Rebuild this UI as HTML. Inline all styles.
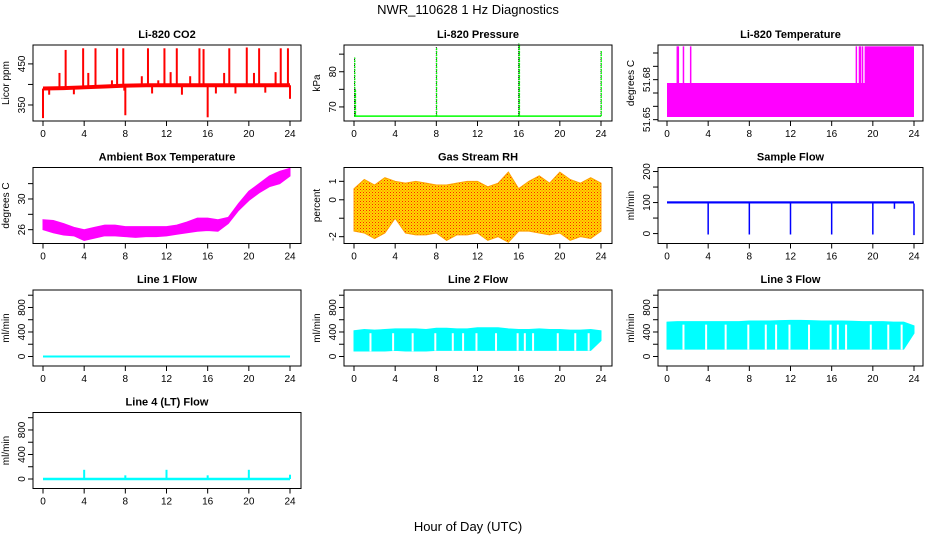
<!DOCTYPE html>
<html><head><meta charset="utf-8"><style>
html,body{margin:0;padding:0;background:#fff}
svg{display:block;font-family:"Liberation Sans",Arial,sans-serif}
</style></head><body>
<svg id="s" width="936" height="540" viewBox="0 0 936 540" xmlns="http://www.w3.org/2000/svg">
<defs>
<pattern id="rhpat" width="3" height="3" patternUnits="userSpaceOnUse"><rect width="3" height="3" fill="#ffd700"/><rect x="0" y="0" width="1" height="1" fill="#ff2000"/><rect x="1.5" y="1.5" width="1" height="1" fill="#ff6000"/></pattern>
</defs>
<text x="468" y="14" text-anchor="middle" font-size="13">NWR_110628  1 Hz Diagnostics</text>
<text x="468" y="531" text-anchor="middle" font-size="13">Hour of Day (UTC)</text>
</svg>
<script>
// ---------- data ----------
const xTicks=[0,4,8,12,16,20,24];
// CO2
const co2BaseHours=[0,2,4,6,8,10,12,16,20,24];
const co2BaseVals=[390,391,393,395,397,398,398,398,398,398];
const co2SpikeHours=[2.2,3.9,5.1,7.2,7.8,10.2,11.8,13.0,15.2,15.6,18.1,19.8,21.0,23.1,23.8,1.6,4.4,6.7,9.6,11.2,12.4,14.3,17.6,20.5,22.6,0.0,8.0,16.0,24.0,0.6,3.0,10.6,13.5,16.8,18.7,21.6,7.9];
const co2SpikeVals=[484,488,488,488,488,488,488,488,488,486,488,490,488,488,488,428,428,410,420,410,430,420,428,428,430,318,325,320,365,375,376,378,375,378,378,380,385];
// Pressure
const presBase=67.4;
const presSpikeHours=[0.05,0.12,8.0,16.0,16.05,24.0];
const presSpikeVals=[84,75,87,88,87.5,86];
// Li-820 temperature
const ltLow=51.652, ltMid=51.6775, ltHigh=51.705;
const ltStepHour=19.2;
const ltSpikeHours=[1.0,1.1,1.6,2.3,18.4,18.7,18.8,19.0];
// Ambient box temperature
const ambHours=[0,1,2,3,4,5,6,7,8,9,10,11,12,13,14,15,16,17,18,19,20,21,22,23,24];
const ambHi=[27.3,27.2,26.8,26.3,26.0,26.3,26.6,26.6,26.4,26.4,26.4,26.4,26.4,26.6,27.0,27.5,27.5,27.3,27.6,29.4,31.0,32.0,33.0,33.6,34.0];
const ambLo=[26.0,25.6,25.3,25.2,24.6,24.9,25.2,25.2,25.1,25.0,25.1,25.1,25.2,25.4,25.6,25.8,25.9,25.8,26.8,28.5,29.8,30.8,31.6,32.0,33.0];
// Gas stream RH
const rhHours=[0,1,2,3,4,5,6,7,8,9,10,11,12,13,14,15,16,17,18,19,20,21,22,23,24];
const rhHi=[0.6,1.1,0.8,1.2,1.0,0.9,1.0,0.9,0.8,0.8,0.9,1.0,1.0,0.7,0.9,1.5,0.6,1.0,1.3,0.9,1.5,1.1,0.9,1.2,0.9];
const rhLo=[-1.7,-1.8,-2.1,-1.8,-1.0,-1.8,-1.9,-1.9,-1.8,-2.2,-1.9,-1.9,-1.8,-2.2,-2.0,-2.3,-1.7,-1.7,-1.8,-1.9,-1.8,-2.2,-2.0,-2.1,-1.7];
// Sample flow
const sfBaseLo=97, sfBaseHi=104;
const sfDipHours=[4.0,8.0,12.0,16.0,20.0,24.0,22.1];
const sfDipVals=[-3,-3,-3,-3,-3,-5,80];
// Line flows
const l2Hi=[420,440,430,440,450,450,450,440,460,460,450,450,470,470,470,450,440,440,450,440,440,430,430,440,420];
const l2Lo=[90,90,90,90,100,90,90,90,100,100,100,100,100,100,100,100,100,100,100,100,100,100,100,100,260];
const l3Hi=[560,570,570,570,570,570,570,570,580,580,580,585,590,590,585,580,580,580,575,570,570,570,560,560,500];
const l3Lo=[120,120,120,120,120,120,120,120,120,120,120,120,120,120,120,120,120,120,120,120,120,120,120,120,380];
const flowHours=[0,1,2,3,4,5,6,7,8,9,10,11,12,13,14,15,16,17,18,19,20,21,22,23,24];
const flowGapHours=[1.6,3.8,5.7,7.9,9.6,10.6,11.9,13.8,15.9,16.6,17.4,19.8,21.5,22.8];
const l4SpikeHours=[4.0,8.0,12.0,16.0,20.0,24.0];
const l4SpikeVals=[150,60,150,60,150,70];

// ---------- drawing ----------
const svg=document.getElementById('s');
const NS='http://www.w3.org/2000/svg';
function mk(tag,attrs,parent){const e=document.createElementNS(NS,tag);for(const k in attrs)e.setAttribute(k,attrs[k]);(parent||svg).appendChild(e);return e;}
const cols=[{l:33,r:301,x0:43,x24:290},{l:344,r:612,x0:354,x24:601},{l:658,r:923,x0:667,x24:914}];
function panel(col,row,title,ylab,ymin,ymax,ticks,labels,name){
  const c=cols[col];const top=45+row*122.5,bot=top+76;
  const g=mk('g',{});
  
  
  const X=t=>c.x0+t*(c.x24-c.x0)/24;
  const Y=v=>bot-(v-ymin)/(ymax-ymin)*(bot-top);
  const t=mk('text',{x:(c.l+c.r)/2,y:top-7,'text-anchor':'middle','font-size':11,'font-weight':'bold'},g);t.textContent=title;
  
  
  const yl=mk('text',{x:0,y:0,'text-anchor':'middle','font-size':10,transform:`translate(${c.l-24},${(top+bot)/2}) rotate(-90)`},g);yl.textContent=ylab;
  
  
  const data=mk('g',{},g);
  
  
  xTicks.forEach(v=>{mk('line',{x1:X(v),x2:X(v),y1:bot,y2:bot+5,stroke:'#000'},g);
    const tl=mk('text',{x:X(v),y:bot+16,'text-anchor':'middle','font-size':10},g);tl.textContent=v;
    
    });
  ticks.forEach((v,i)=>{mk('line',{x1:c.l-5,x2:c.l,y1:Y(v),y2:Y(v),stroke:'#000'},g);
    if(labels[i]!==''){const tl=mk('text',{x:0,y:0,'text-anchor':'middle','font-size':10,transform:`translate(${c.l-8},${Y(v)}) rotate(-90)`},g);tl.textContent=labels[i];
    
    }});
  const box=mk('rect',{x:c.l,y:top,width:c.r-c.l,height:bot-top,fill:'none',stroke:'#000'},g);
  
  
  return {X,Y,g:data,top,bot};
}
function band(p,hours,hi,lo,fill){
  let d='M'+hours.map((h,i)=>p.X(h)+','+p.Y(hi[i])).join('L');
  for(let i=hours.length-1;i>=0;i--)d+='L'+p.X(hours[i])+','+p.Y(lo[i]);
  const e=mk('path',{d:d+'Z',fill:fill,stroke:fill==='url(#rhpat)'?'#ffa000':fill,'stroke-width':1},p.g);
  
  
}
function vline(p,h,v1,v2,color,w,dash){const e=mk('line',{x1:p.X(h),x2:p.X(h),y1:p.Y(v1),y2:p.Y(v2),stroke:color,'stroke-width':w||1.5},p.g);if(dash)e.setAttribute('stroke-dasharray',dash);
  
  }
function interp(hs,vs,h){for(let i=1;i<hs.length;i++){if(h<=hs[i]){const f=(h-hs[i-1])/(hs[i]-hs[i-1]);return vs[i-1]+f*(vs[i]-vs[i-1]);}}return vs[vs.length-1];}

// CO2
let p=panel(0,0,'Li-820 CO2','Licor ppm',311,496,[350,400,450],['350','','450'],'co2');
let bl=mk('polyline',{points:co2BaseHours.map((h,i)=>p.X(h)+','+p.Y(co2BaseVals[i])).join(' '),fill:'none',stroke:'#f00','stroke-width':4},p.g);


co2SpikeHours.forEach((h,i)=>{vline(p,h,interp(co2BaseHours,co2BaseVals,h),co2SpikeVals[i],'#f00',2);});

// Pressure
p=panel(1,0,'Li-820 Pressure','kPa',66,87.6,[70,75,80,85],['70','','80',''],'pressure');
let pl=mk('line',{x1:p.X(0),x2:p.X(24),y1:p.Y(presBase),y2:p.Y(presBase),stroke:'#0f0','stroke-width':1.5},p.g);


presSpikeHours.forEach((h,i)=>{vline(p,h,presBase,presSpikeVals[i],'#000',1,'1,1');vline(p,h+0.03,presBase,presSpikeVals[i],'#0f0',1.2,'2,1');});

// Li-820 Temp
p=panel(2,0,'Li-820 Temperature','degrees C',51.649,51.706,[51.65,51.66,51.67,51.68,51.69,51.70],['51.65','','','51.68','',''],'li820-temp');
let r=mk('rect',{x:p.X(0),y:p.Y(ltMid),width:p.X(24)-p.X(0),height:p.Y(ltLow)-p.Y(ltMid),fill:'#f0f'},p.g);


r=mk('rect',{x:p.X(ltStepHour),y:p.Y(ltHigh),width:p.X(24)-p.X(ltStepHour),height:p.Y(ltLow)-p.Y(ltHigh),fill:'#f0f'},p.g);


ltSpikeHours.forEach(h=>vline(p,h,ltMid,ltHigh,'#f0f',1.5));

// Ambient
p=panel(0,1,'Ambient Box Temperature','degrees C',24.2,34.1,[26,28,30,32],['26','','30',''],'ambient-temp');
band(p,ambHours,ambHi,ambLo,'#f0f');

// RH
p=panel(1,1,'Gas Stream RH','percent',-2.37,1.75,[-2,-1,0,1],['-2','','0','1'],'gas-rh');
band(p,rhHours,rhHi,rhLo,'url(#rhpat)');

// Sample flow
p=panel(2,1,'Sample Flow','ml/min',-32,213,[0,50,100,150,200],['0','','100','','200'],'sample-flow');
r=mk('rect',{x:p.X(0),y:p.Y(sfBaseHi),width:p.X(24)-p.X(0),height:p.Y(sfBaseLo)-p.Y(sfBaseHi),fill:'#00f'},p.g);


sfDipHours.forEach((h,i)=>vline(p,h,sfBaseLo,sfDipVals[i],'#00f',1.5));

// Line flows
const fT=[0,200,400,600,800,1000],fL=['0','','400','','800',''];
p=panel(0,2,'Line 1 Flow','ml/min',-155,1085,fT,fL,'line1-flow');
pl=mk('line',{x1:p.X(0),x2:p.X(24),y1:p.Y(0),y2:p.Y(0),stroke:'#0ff','stroke-width':2},p.g);


p=panel(1,2,'Line 2 Flow','ml/min',-155,1085,fT,fL,'line2-flow');
band(p,flowHours,l2Hi,l2Lo,'#0ff');
flowGapHours.forEach(h=>vline(p,h,l2Lo[Math.round(h)]-5,380,'#fff',2));
p=panel(2,2,'Line 3 Flow','ml/min',-155,1085,fT,fL,'line3-flow');
band(p,flowHours,l3Hi,l3Lo,'#0ff');
flowGapHours.forEach(h=>vline(p,h,l3Lo[Math.round(h)]-5,520,'#fff',2));
p=panel(0,3,'Line 4 (LT) Flow','ml/min',-155,1085,fT,fL,'line4-flow');
pl=mk('line',{x1:p.X(0),x2:p.X(24),y1:p.Y(0),y2:p.Y(0),stroke:'#0ff','stroke-width':2.5},p.g);


l4SpikeHours.forEach((h,i)=>vline(p,h,0,l4SpikeVals[i],'#0ff',2));
</script>
</body></html>
